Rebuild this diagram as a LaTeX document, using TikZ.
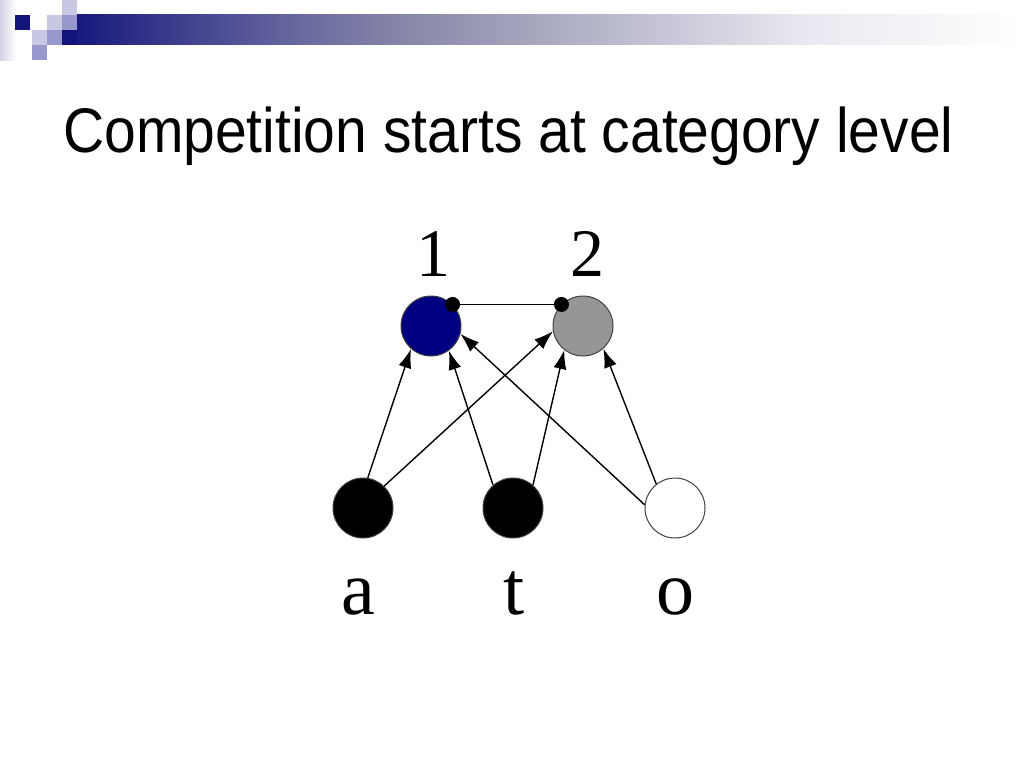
\documentclass[tikz,border=0pt]{standalone}
\usepackage{fontspec}
\setmainfont{Liberation Serif}
\newfontfamily\titlefont{Liberation Sans}
\usetikzlibrary{arrows.meta,positioning}

\definecolor{navy}{RGB}{20,20,124}
\definecolor{lavlight}{RGB}{200,200,226}
\definecolor{lavmid}{RGB}{152,152,204}
\definecolor{catgray}{RGB}{150,150,150}
\definecolor{catblue}{RGB}{0,0,128}
\definecolor{barA}{RGB}{106,106,160}
\definecolor{barB}{RGB}{138,138,170}
\definecolor{barC}{RGB}{232,232,240}

\pgfdeclarehorizontalshading{barshade}{100bp}{color(0bp)=(navy); color(25bp)=(navy); color(37.5bp)=(barA); color(43.5bp)=(barB); color(63.5bp)=(barC); color(75bp)=(white); color(100bp)=(white)}

\begin{document}
\begin{tikzpicture}
  [x=1pt,y=-1pt,>={Latex[length=19pt,width=13pt]}]

% define styles
\tikzstyle{unit} = [draw=black!75, line width=1pt, circle, minimum size=60pt, inner sep=0pt];
\tikzstyle{lab} = [inner sep=0pt, anchor=base];

% define new commands
\newcommand{\conUp}[2]{
  \draw [->, line width=1.4pt] (#1) -- (#2);
}

\useasboundingbox (0,0) rectangle (1024,768);

% slide decoration
\shade [left color=lavlight!80, right color=white] (0,0) rectangle (16,60);
\shade [shading=barshade] (62,15) rectangle (1024,45);
\fill [navy] (15,15) rectangle (30,30);
\fill [navy] (62,30) rectangle (77,45);
\fill [lavlight] (62,0) rectangle (77,15);
\fill [lavlight] (47,15) rectangle (62,30);
\fill [lavmid] (62,15) rectangle (77,30);
\fill [lavlight] (32,30) rectangle (47,45);
\fill [lavmid] (47,30) rectangle (62,45);
\fill [lavmid] (32,45) rectangle (47,60);

% title
\node [inner sep=0pt, anchor=base west] (title) at (63,152)
  {\titlefont\fontsize{63}{76}\selectfont\scalebox{0.905}[1]{Competition starts at category level}};

% draw nodes
\node [unit, fill=catblue] (cat1) at (431,326) {};
\node [unit, fill=catgray] (cat2) at (583,326) {};
\node [unit, fill=black] (a) at (363,508) {};
\node [unit, fill=black] (t) at (513,508) {};
\node [unit, fill=white] (o) at (675,508) {};

% labels
\node [lab, above=19pt of cat1, anchor=base, xshift=2pt] (lab1) {\fontsize{68}{80}\selectfont 1};
\node [lab, above=19pt of cat2, anchor=base, xshift=4pt] (lab2) {\fontsize{68}{80}\selectfont 2};
\node [lab, below=76pt of a, anchor=base, xshift=-5pt] (laba) {\fontsize{76}{90}\selectfont a};
\node [lab, below=76pt of t, anchor=base, xshift=1pt] (labt) {\fontsize{76}{90}\selectfont t};
\node [lab, below=76pt of o, anchor=base] (labo) {\fontsize{76}{90}\selectfont o};

% inhibition between the categories
\node [circle, fill=black, inner sep=0pt, minimum size=15pt] (dot1) at (cat1.45) {};
\node [circle, fill=black, inner sep=0pt, minimum size=15pt] (dot2) at (cat2.135) {};
\draw [line width=1.3pt] (dot1) -- (dot2);

% draw letter to category edges
\conUp{a.81}{cat1.229}
\conUp{a.46}{cat2.190}
\conUp{t.131}{cat1.306}
\conUp{t.49}{cat2.232}
\conUp{o.174}{cat1.345}
\conUp{o.128}{cat2.312}

\end{tikzpicture}
\end{document}
